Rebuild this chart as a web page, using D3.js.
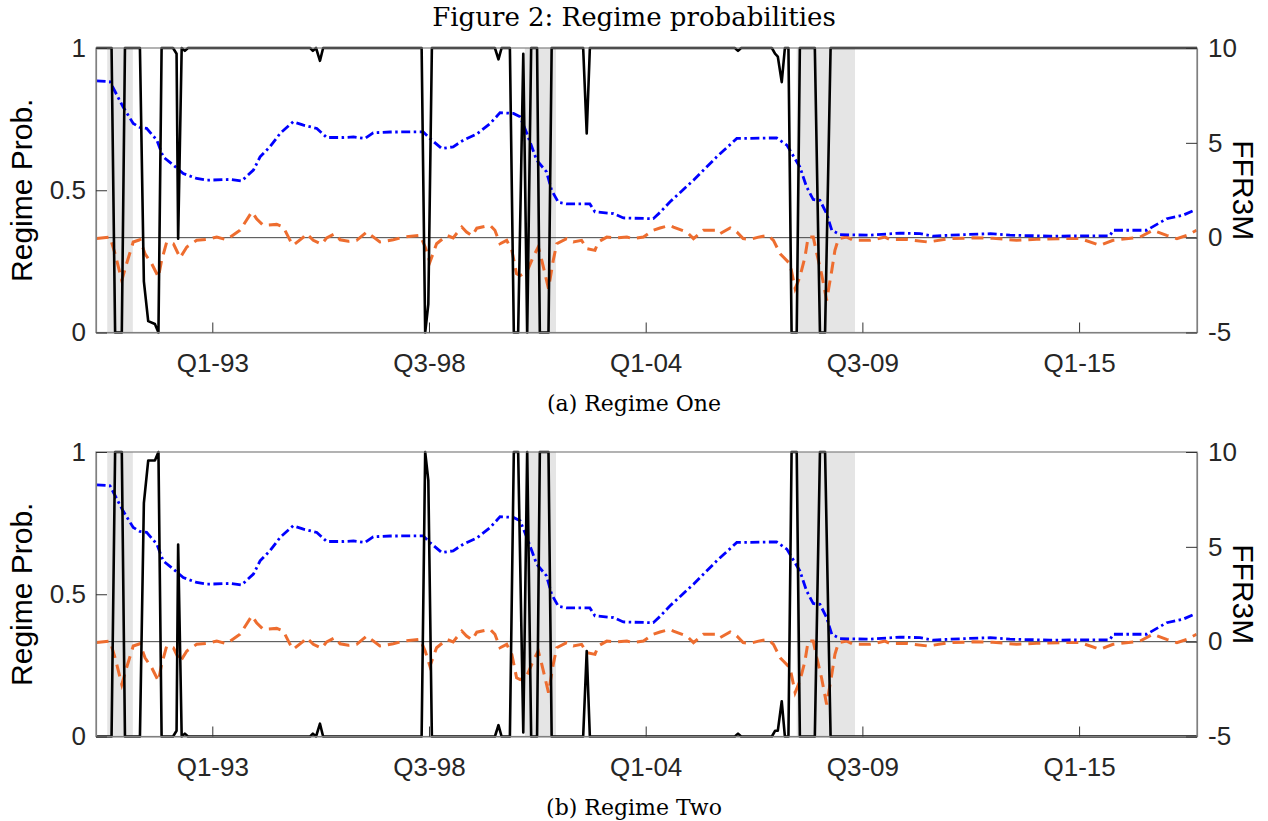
<!DOCTYPE html>
<html>
<head>
<meta charset="utf-8">
<script src="https://cdnjs.cloudflare.com/ajax/libs/d3/7.8.5/d3.min.js"></script>
<style>
  body { margin: 0; background: #fff; }
  text { font-family: "Liberation Sans", Arial, sans-serif; }
  .caption { font-family: "DejaVu Serif", "Liberation Serif", serif; fill: #000; }
</style>
</head>
<body>
<svg id="fig" width="1268" height="821"></svg>
<script>
// decimal years
const probDates = [1990.22, 1990.61, 1990.70, 1990.87, 1990.95, 1991.33, 1991.43, 1991.54, 1991.71, 1991.80,
  1991.88, 1992.17, 1992.26, 1992.30, 1992.39, 1992.47, 1992.55, 1995.65, 1995.72, 1995.80,
  1995.90, 1995.98, 1998.48, 1998.57, 1998.65, 1998.74, 2000.34, 2000.43, 2000.51, 2000.72,
  2000.82, 2000.93, 2001.06, 2001.16, 2001.26, 2001.41, 2001.48, 2001.70, 2001.78, 2002.58,
  2002.67, 2002.75, 2006.43, 2006.51, 2006.59, 2007.37, 2007.45, 2007.52, 2007.62, 2007.70,
  2007.79, 2007.87, 2008.00, 2008.08, 2008.46, 2008.59, 2008.72, 2008.86, 2018.16];
const regimeOne = [1, 1, 0, 0, 1, 1, 0.18, 0.04, 0.03, 0,
  1, 1, 0.98, 0.33, 1, 0.99, 1, 1, 0.99, 1,
  0.955, 1, 1, 0, 0.1, 1, 1, 0.96, 1, 1,
  0, 0, 0.98, 0, 1, 1, 0, 0, 1, 1,
  0.70, 1, 1, 0.99, 1, 1, 0.98, 0.97, 0.88, 1,
  1, 0, 0, 1, 1, 0, 0, 1, 1];
const regimeTwo = [0, 0, 1, 1, 0, 0, 0.82, 0.97, 0.97, 1,
  0, 0, 0.02, 0.675, 0, 0.01, 0, 0, 0.01, 0,
  0.045, 0, 0, 1, 0.9, 0, 0, 0.04, 0, 0,
  1, 1, 0.014, 1, 0, 0, 1, 1, 0, 0,
  0.30, 0, 0, 0.01, 0, 0, 0.02, 0.02, 0.124, 0,
  0, 1, 1, 0, 0, 1, 1, 0, 0];

const levelDates = [1990.23, 1990.57, 1990.90, 1991.16, 1991.33, 1991.50, 1991.76, 1991.92, 1992.18, 1992.43,
  1992.77, 1993.03, 1993.62, 1993.91, 1994.21, 1994.38, 1994.63, 1994.89, 1995.22, 1995.48,
  1995.82, 1996.07, 1996.49, 1996.75, 1997.04, 1997.25, 1997.68, 1998.52, 1998.69, 1998.99,
  1999.28, 1999.54, 1999.88, 2000.22, 2000.47, 2000.81, 2000.98, 2001.15, 2001.40, 2001.65,
  2001.78, 2001.95, 2002.16, 2002.75, 2002.88, 2003.35, 2003.60, 2004.36, 2004.53, 2004.78,
  2005.38, 2005.97, 2006.48, 2007.49, 2007.75, 2008.08, 2008.25, 2008.42, 2008.59, 2008.76,
  2008.89, 2009.10, 2009.86, 2010.62, 2011.13, 2011.46, 2011.89, 2012.91, 2013.41, 2014.43,
  2015.95, 2016.03, 2016.88, 2017.39, 2017.80, 2018.13];
const levelValues = [8.27, 8.22, 6.9, 6.02, 5.81, 5.76, 5.14, 4.26, 3.82, 3.38,
  3.12, 3.03, 3.07, 2.99, 3.56, 4.26, 4.79, 5.5, 6.11, 5.93,
  5.76, 5.28, 5.28, 5.31, 5.23, 5.53, 5.57, 5.58, 5.23, 4.70,
  4.79, 5.14, 5.46, 6.02, 6.59, 6.55, 6.37, 5.5, 4.09, 3.47,
  2.5, 1.86, 1.78, 1.78, 1.36, 1.27, 1.04, 1.0, 1.33, 1.88,
  3.03, 4.26, 5.23, 5.26, 4.88, 3.73, 2.68, 2.01, 1.97, 1.27,
  0.39, 0.16, 0.13, 0.24, 0.21, 0.08, 0.13, 0.21, 0.13, 0.08,
  0.1, 0.39, 0.39, 1.0, 1.18, 1.48];

const changeDates = [1990.23, 1990.57, 1990.70, 1990.87, 1990.99, 1991.16, 1991.33, 1991.46, 1991.63, 1991.80,
  1991.88, 1992.01, 1992.18, 1992.35, 1992.52, 1992.77, 1993.03, 1993.28, 1993.53, 1993.87,
  1994.17, 1994.29, 1994.46, 1994.80, 1994.97, 1995.14, 1995.22, 1995.48, 1995.56, 1995.73,
  1995.94, 1996.07, 1996.28, 1996.41, 1996.62, 1996.83, 1997.09, 1997.42, 1997.76, 1998.02,
  1998.44, 1998.57, 1998.69, 1998.86, 1999.12, 1999.28, 1999.50, 1999.62, 1999.76, 1999.88,
  2000.22, 2000.34, 2000.47, 2000.64, 2000.77, 2000.89, 2000.98, 2001.15, 2001.31, 2001.44,
  2001.53, 2001.61, 2001.70, 2001.82, 2001.91, 2002.16, 2002.33, 2002.54, 2002.67, 2002.88,
  2002.96, 2003.18, 2003.43, 2003.69, 2003.85, 2004.11, 2004.36, 2004.53, 2004.78, 2004.87,
  2005.21, 2005.38, 2005.63, 2005.97, 2006.05, 2006.31, 2006.48, 2006.64, 2006.81, 2007.03,
  2007.28, 2007.41, 2007.58, 2007.66, 2007.83, 2007.96, 2008.08, 2008.21, 2008.29, 2008.42,
  2008.51, 2008.63, 2008.76, 2008.89, 2008.97, 2009.06, 2009.27, 2009.44, 2009.86, 2010.24,
  2010.37, 2010.79, 2011.33, 2011.89, 2012.47, 2012.98, 2013.58, 2014.09, 2014.68, 2015.19,
  2015.70, 2016.03, 2016.71, 2017.04, 2017.39, 2017.65, 2017.90, 2018.15];
const changeValues = [-0.05, 0.03, -0.85, -2.26, -1.38, -0.23, -0.11, -0.85, -1.38, -2.08,
  -1.2, -0.23, -0.32, -1.06, -0.49, -0.14, -0.09, 0.03, -0.11, 0.39,
  1.36, 1.0, 0.65, 0.70, 0.56, -0.14, -0.4, 0.03, 0.21, -0.14,
  -0.35, -0.01, 0.21, -0.11, -0.19, -0.14, 0.3, -0.23, -0.11, 0.03,
  0.12, -0.49, -1.29, -0.32, 0.12, -0.01, 0.56, 0.3, 0.1, 0.5,
  0.65, 0.39, -0.32, -0.14, -0.67, -1.9, -2.0, -1.8, -1.02, -0.49,
  -1.2, -1.9, -2.69, -1.2, -0.32, -0.05, -0.23, -0.14, -0.58, -0.67,
  -0.23, 0.03, -0.01, 0.03, -0.05, 0.03, 0.39, 0.51, 0.65, 0.56,
  0.3, -0.05, 0.39, 0.39, 0.21, 0.51, 0.3, -0.05, -0.09, 0.03,
  0.12, -0.14, -0.85, -1.02, -1.38, -2.69, -2.08, -1.02, 0.03, 0.03,
  -0.85, -1.9, -3.31, -1.73, -0.67, -0.05, 0.03, -0.14, -0.14, 0.03,
  -0.1, -0.09, -0.23, -0.05, -0.01, -0.03, -0.14, -0.09, -0.05, -0.05,
  -0.4, -0.14, 0.03, 0.39, 0.12, -0.05, 0.12, 0.39];

const recessionStart = [1990.50, 2001.10, 2008.00];
const recessionEnd = [1991.15, 2001.89, 2009.48];

const xTickDates = [1993.167, 1998.667, 2004.167, 2009.667, 2015.167];
const xTickLabels = ['Q1-93', 'Q3-98', 'Q1-04', 'Q3-09', 'Q1-15'];
const probTicks = [0, 0.5, 1];
const rateTicks = [-5, 0, 5, 10];

const panels = [
  { top: 48, series: regimeOne, caption: '(a) Regime One' },
  { top: 452, series: regimeTwo, caption: '(b) Regime Two' }
];
const plotH = 284.5;

const svg = d3.select('#fig');

const x = d3.scaleLinear()
  .domain([1990.215, 2018.16])
  .range([96, 1197]);

svg.append('text')
  .attr('class', 'caption')
  .attr('x', 634).attr('y', 26)
  .attr('text-anchor', 'middle')
  .style('font-size', '26px')
  .text('Figure 2: Regime probabilities');

panels.forEach(p => {
  const g = svg.append('g');
  const yL = d3.scaleLinear().domain([0, 1]).range([p.top + plotH, p.top]);
  const yR = d3.scaleLinear().domain([-5, 10]).range([p.top + plotH, p.top]);

  g.selectAll('rect.rec')
    .data(recessionStart)
    .enter()
    .append('rect')
    .attr('x', (d) => x(d))
    .attr('width', (d, i) => x(recessionEnd[i]) - x(d))
    .attr('y', p.top)
    .attr('height', plotH)
    .attr('fill', '#e5e5e5');

  g.append('line')
    .attr('x1', x.range()[0]).attr('x2', x.range()[1])
    .attr('y1', yR(0)).attr('y2', yR(0))
    .attr('stroke', '#444')
    .attr('stroke-width', 1);

  let changeLine = d3.line()
    .x((d, i) => x(changeDates[i]))
    .y((d) => yR(d));
  g.append('path')
    .attr('d', changeLine(changeValues))
    .attr('fill', 'none')
    .attr('stroke', '#ee6d2f')
    .attr('stroke-width', 3)
    .attr('stroke-dasharray', '12,7');

  let levelLine = d3.line()
    .x((d, i) => x(levelDates[i]))
    .y((d) => yR(d));
  g.append('path')
    .attr('d', levelLine(levelValues))
    .attr('fill', 'none')
    .attr('stroke', '#0000ff')
    .attr('stroke-width', 2.8)
    .attr('stroke-dasharray', '9,3.5,2.5,3.5');

  let probLine = d3.line()
    .x((d, i) => x(probDates[i]))
    .y((d) => yL(d));
  g.append('path')
    .attr('d', probLine(p.series))
    .attr('fill', 'none')
    .attr('stroke', '#000')
    .attr('stroke-width', 2.6)
    .attr('stroke-linejoin', 'round');

  // box
  g.append('rect')
    .attr('x', 96).attr('y', p.top)
    .attr('width', 1197 - 96).attr('height', plotH)
    .attr('fill', 'none')
    .attr('stroke', '#808080')
    .attr('stroke-width', 1.2);

  const xAxis = g.append('g')
    .attr('transform', `translate(0,${p.top + plotH})`)
    .call(d3.axisBottom(x).tickValues(xTickDates)
      .tickFormat((d, i) => xTickLabels[i])
      .tickSizeInner(-10).tickSizeOuter(0).tickPadding(21));

  const leftAxis = g.append('g')
    .attr('transform', 'translate(96,0)')
    .call(d3.axisLeft(yL).tickValues(probTicks)
      .tickFormat((d) => String(d))
      .tickSizeInner(-11).tickSizeOuter(0).tickPadding(10));

  const rightAxis = g.append('g')
    .attr('transform', 'translate(1197,0)')
    .call(d3.axisRight(yR).tickValues(rateTicks)
      .tickFormat((d) => String(d))
      .tickSizeInner(-11).tickSizeOuter(0).tickPadding(11));

  [xAxis, leftAxis, rightAxis].forEach(a => {
    a.select('.domain').attr('stroke', '#808080').attr('stroke-width', 1.2);
    a.selectAll('.tick line').attr('stroke', '#333');
    a.selectAll('.tick text').attr('fill', '#262626').style('font-size', '26px');
  });

  g.append('text')
    .attr('transform', `translate(32,${p.top + plotH / 2}) rotate(-90)`)
    .attr('text-anchor', 'middle')
    .style('font-size', '30px')
    .text('Regime Prob.');

  g.append('text')
    .attr('transform', `translate(1233,${p.top + plotH / 2}) rotate(90)`)
    .attr('text-anchor', 'middle')
    .style('font-size', '30px')
    .text('FFR3M');

  g.append('text')
    .attr('class', 'caption')
    .attr('x', 634).attr('y', p.top + plotH + 78)
    .attr('text-anchor', 'middle')
    .style('font-size', '22px')
    .text(p.caption);
});
</script>
</body>
</html>
